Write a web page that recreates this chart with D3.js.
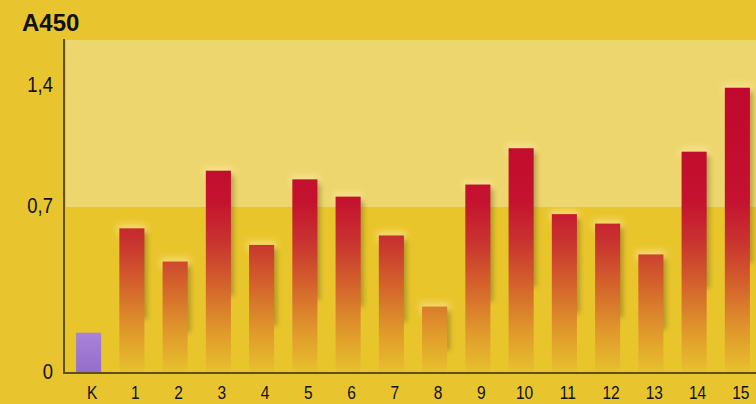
<!DOCTYPE html>
<html>
<head>
<meta charset="utf-8">
<script src="https://cdn.jsdelivr.net/npm/d3@7"></script>
<style>
  html, body { margin: 0; padding: 0; background: #e8c42e; }
  svg { display: block; }
</style>
</head>
<body>
<svg id="chart" width="756" height="404"></svg>
<script>
// ---- data ----
const categories = ["K", "1", "2", "3", "4", "5", "6", "7", "8", "9", "10", "11", "12", "13", "14", "15"];
const values = [0.17, 0.61, 0.47, 0.91, 0.54, 0.86, 0.76, 0.58, 0.28, 0.83, 1.04, 0.67, 0.63, 0.50, 1.02, 1.39];
const yTicks = [0, 0.7, 1.4];
const yTickLabels = ["0", "0,7", "1,4"];
const title = "A450";

// ---- layout ----
const W = 756, H = 404;
const plotLeft = 64, plotTop = 39, baseY = 373;

const svg = d3.select("#chart");
const defs = svg.append("defs");

// scales
const x = d3.scaleBand().domain(categories).range([67, 759]).paddingInner(0.42).paddingOuter(0.21);
const y = d3.scaleLinear().domain(yTicks).range([baseY, 207, 86]);

// background
svg.append("rect").attr("width", W).attr("height", H).attr("fill", "#e8c42e");
// light upper band
svg.append("rect")
  .attr("x", plotLeft + 2).attr("y", plotTop + 1)
  .attr("width", W - plotLeft - 2).attr("height", y(0.7) - plotTop - 1)
  .attr("fill", "#eed66e");
// lower band
svg.append("rect")
  .attr("x", plotLeft + 2).attr("y", y(0.7))
  .attr("width", W - plotLeft - 2).attr("height", baseY - y(0.7))
  .attr("fill", "#e9c52c");

// gradients
const g1 = defs.append("linearGradient").attr("id", "barGrad")
  .attr("gradientUnits", "userSpaceOnUse").attr("x1", 0).attr("x2", 0)
  .attr("y1", y(1.4)).attr("y2", baseY);
[[0, "#c1072e"], [0.4, "#c4122f"], [0.55, "#c9352f"], [0.7, "#d4652b"], [0.85, "#df972b"], [1, "#e8c12e"]]
  .forEach(([o, c]) => g1.append("stop").attr("offset", o).attr("stop-color", c));

const g2 = defs.append("linearGradient").attr("id", "kGrad")
  .attr("x1", 0).attr("x2", 0).attr("y1", 0).attr("y2", 1);
g2.append("stop").attr("offset", 0).attr("stop-color", "#a983d9");
g2.append("stop").attr("offset", 1).attr("stop-color", "#946ccb");

const blur = defs.append("filter").attr("id", "shadow")
  .attr("x", "-50%").attr("y", "-20%").attr("width", "200%").attr("height", "140%");
blur.append("feGaussianBlur").attr("stdDeviation", 2.5);

const glow = defs.append("filter").attr("id", "glow")
  .attr("x", "-50%").attr("y", "-50%").attr("width", "200%").attr("height", "200%");
glow.append("feGaussianBlur").attr("stdDeviation", 3);

const data = categories.map((c, i) => ({ c, v: values[i] }));

// glow above bars
svg.append("g").selectAll("rect").data(data.filter(d => d.c !== "K")).join("rect")
  .attr("x", d => x(d.c) - 2).attr("y", d => y(d.v) - 4)
  .attr("width", x.bandwidth() + 4).attr("height", 10)
  .attr("fill", "#fbeaa0").attr("opacity", 0.6)
  .attr("filter", "url(#glow)");

// shadows
svg.append("g").selectAll("rect").data(data.filter(d => d.c !== "K")).join("rect")
  .attr("x", d => x(d.c) + 5).attr("y", d => y(d.v) + 4)
  .attr("width", x.bandwidth() - 2).attr("height", d => Math.max(0, (baseY - y(d.v)) * 0.6))
  .attr("fill", "#6f6420").attr("opacity", 0.45)
  .attr("filter", "url(#shadow)");

// bars
svg.append("g").selectAll("rect").data(data).join("rect")
  .attr("x", d => x(d.c)).attr("y", d => y(d.v))
  .attr("width", x.bandwidth()).attr("height", d => baseY - y(d.v))
  .attr("fill", d => d.c === "K" ? "url(#kGrad)" : "url(#barGrad)");

// axes lines
svg.append("line").attr("x1", plotLeft).attr("x2", plotLeft).attr("y1", plotTop).attr("y2", baseY + 1)
  .attr("stroke", "#5f5016").attr("stroke-width", 2);
svg.append("line").attr("x1", plotLeft - 1).attr("x2", W).attr("y1", baseY).attr("y2", baseY)
  .attr("stroke", "#5f5016").attr("stroke-width", 2);

const fontLabel = "'Liberation Sans', Arial, sans-serif";

// x axis labels
const xAxis = d3.axisBottom(x).tickSize(0).tickPadding(0);
const gx = svg.append("g").attr("transform", `translate(3.5, ${baseY + 13})`).call(xAxis);
gx.select(".domain").remove();
gx.selectAll("text")
  .attr("font-family", fontLabel).attr("font-size", 18.5).attr("fill", "#111")
  .attr("dy", "0.71em").attr("y", 0)
  .attr("transform", "scale(0.84,1)");

// y axis labels
const yAxis = d3.axisLeft(y).tickValues(yTicks).tickFormat((d, i) => yTickLabels[i]).tickSize(0).tickPadding(0);
const gy = svg.append("g").attr("transform", `translate(53, -2)`).call(yAxis);
gy.select(".domain").remove();
gy.selectAll("text")
  .attr("font-family", fontLabel).attr("font-size", 22.5).attr("fill", "#111")
  .attr("transform", "scale(0.82,1)");

// title
svg.append("text").attr("x", 22).attr("y", 31).text(title)
  .attr("font-family", fontLabel).attr("font-weight", "bold")
  .attr("font-size", 24).attr("fill", "#111");
</script>
</body>
</html>
